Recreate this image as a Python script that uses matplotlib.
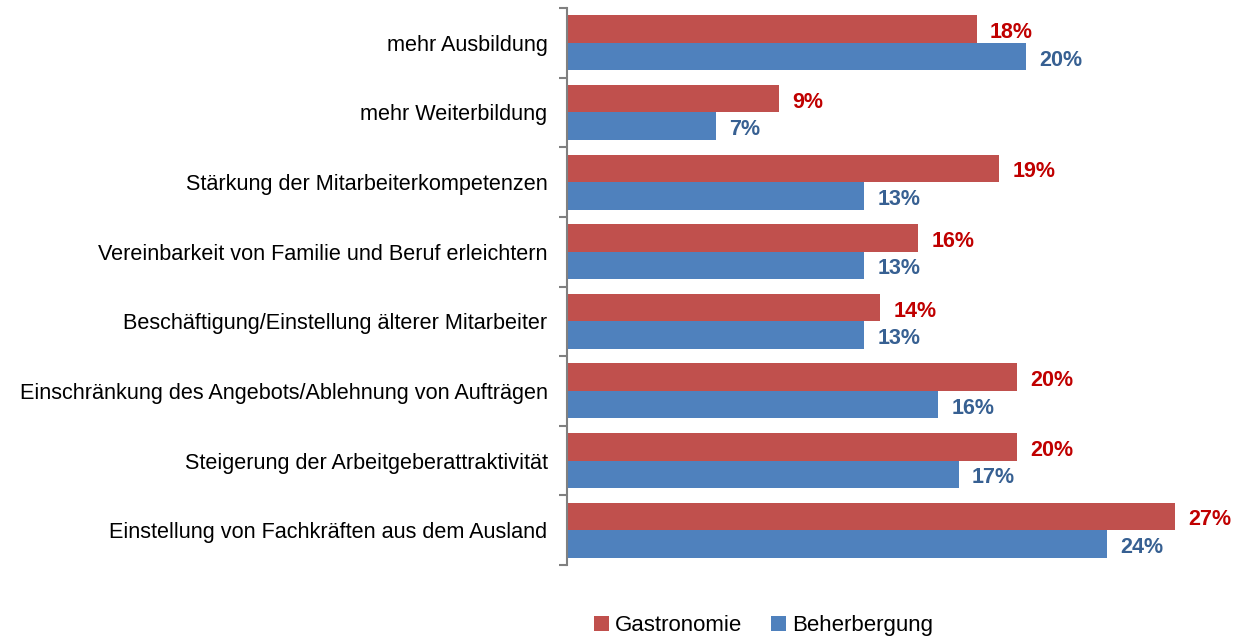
import numpy as np
import matplotlib.pyplot as plt

plt.rcParams['font.family'] = ['Liberation Sans', 'DejaVu Sans']

categories = [
    'mehr Ausbildung',
    'mehr Weiterbildung',
    'Stärkung der Mitarbeiterkompetenzen',
    'Vereinbarkeit von Familie und Beruf erleichtern',
    'Beschäftigung/Einstellung älterer Mitarbeiter',
    'Einschränkung des Angebots/Ablehnung von Aufträgen',
    'Steigerung der Arbeitgeberattraktivität',
    'Einstellung von Fachkräften aus dem Ausland',
]
gastro = [18.2, 9.4, 19.2, 15.6, 13.9, 20.0, 20.0, 27.0]
beher = [20.4, 6.6, 13.2, 13.2, 13.2, 16.5, 17.4, 24.0]

red = '#C0504D'
blue = '#4F81BD'

fig = plt.figure(figsize=(12.46, 6.4), dpi=100)
ax = fig.add_axes([567 / 1246, 1 - 565 / 640, (1242 - 567) / 1246, 557 / 640])

y = np.arange(len(categories))
h = 0.395
ax.barh(y - h / 2, gastro, height=h, color=red, label='Gastronomie')
ax.barh(y + h / 2, beher, height=h, color=blue, label='Beherbergung')

# Wertebeschriftungen
for yi, v in zip(y, gastro):
    ax.text(v + 0.6, yi - h / 2 + 0.05, f'{v:.0f}%', va='center', ha='left',
            color='#C00000', fontsize=15.5, fontweight='bold')
for yi, v in zip(y, beher):
    ax.text(v + 0.6, yi + h / 2 + 0.05, f'{v:.0f}%', va='center', ha='left',
            color='#376092', fontsize=15.5, fontweight='bold')

ax.set_xlim(0, 30)
ax.set_ylim(len(categories) - 0.5, -0.5)
ax.set_yticks(y)
ax.set_yticklabels(categories, fontsize=15.6)
ax.set_yticks(np.arange(len(categories) + 1) - 0.5, minor=True)
ax.tick_params(axis='y', which='major', length=0, pad=14)
ax.tick_params(axis='y', which='minor', length=6, color='#808080', width=1.5)
ax.set_xticks([])
for s in ['top', 'right', 'bottom']:
    ax.spines[s].set_visible(False)
ax.spines['left'].set_color('#808080')
ax.spines['left'].set_linewidth(1.5)

fig.legend(loc='center', bbox_to_anchor=(0.613, 0.022), ncol=2, frameon=False,
           fontsize=16, handlelength=0.65, handleheight=0.7, handletextpad=0.3,
           columnspacing=1.3)

fig.savefig('out.png', dpi=100)
